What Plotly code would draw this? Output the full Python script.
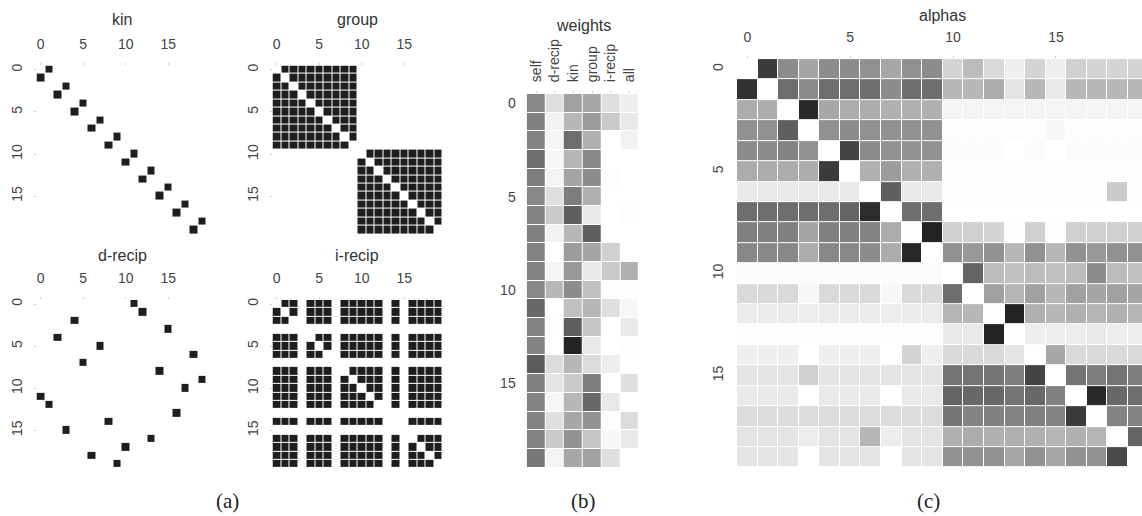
import plotly.graph_objects as go

W, H = 1142, 516
N = 20
idx = list(range(N))

# ---------------- data ----------------
kin_partner = [1, 0, 3, 2, 5, 4, 7, 6, 9, 8, 11, 10, 13, 12, 15, 14, 17, 16, 19, 18]
group_id = [0] * 10 + [1] * 10
drecip_partner = [11, 12, 4, 15, 2, 7, 18, 5, 14, 19, 17, 0, 1, 16, 8, 3, 13, 10, 6, 9]
irecip_member = [1, 1, 1, 0, 1, 1, 1, 0, 1, 1, 1, 1, 1, 0, 1, 0, 1, 1, 1, 1]

weight_labels = ["self", "d-recip", "kin", "group", "i-recip", "all"]
w_self = [53, 56, 55, 65, 58, 53, 55, 56, 55, 55, 53, 67, 55, 55, 72, 56, 55, 55, 55, 60]
w_drecip = [14, 6, 5, 3, 5, 14, 24, 6, 0, 5, 32, 0, 1, 0, 16, 12, 4, 14, 24, 5]
w_kin = [42, 32, 65, 32, 40, 58, 71, 32, 44, 46, 51, 28, 71, 98, 32, 24, 32, 39, 48, 39]
w_group = [39, 45, 35, 53, 51, 35, 10, 71, 40, 10, 28, 32, 26, 10, 16, 58, 67, 48, 26, 42]
w_irecip = [14, 24, 0, 0, 1, 0, 0, 0, 21, 24, 1, 14, 0, 0, 8, 0, 10, 1, 3, 14]
w_all = [7, 10, 6, 0, 0, 0, 1, 0, 0, 35, 1, 4, 10, 1, 0, 14, 0, 16, 10, 0]

alpha_rows = [
    [0, 87, 51, 40, 51, 51, 49, 39, 49, 51, 19, 30, 17, 7, 19, 7, 21, 19, 19, 19],
    [91, 0, 65, 51, 65, 65, 64, 51, 64, 64, 32, 32, 37, 12, 32, 10, 32, 32, 32, 32],
    [37, 37, 0, 95, 39, 37, 37, 35, 35, 35, 5, 5, 5, 5, 5, 5, 5, 5, 5, 5],
    [49, 49, 71, 0, 49, 51, 49, 49, 49, 49, 1, 1, 1, 1, 1, 3, 1, 1, 1, 1],
    [51, 51, 55, 49, 0, 83, 51, 49, 49, 49, 2, 2, 2, 0, 2, 0, 2, 2, 2, 2],
    [37, 37, 37, 37, 87, 0, 35, 44, 35, 35, 1, 1, 1, 1, 1, 1, 1, 1, 1, 1],
    [10, 10, 10, 10, 10, 10, 0, 71, 10, 10, 1, 1, 1, 1, 1, 1, 1, 1, 23, 1],
    [65, 65, 65, 65, 65, 69, 94, 0, 64, 64, 0, 0, 0, 0, 0, 0, 0, 0, 0, 0],
    [56, 56, 56, 40, 56, 56, 55, 37, 0, 98, 21, 21, 19, 1, 21, 1, 21, 21, 21, 21],
    [53, 53, 53, 37, 53, 53, 51, 37, 95, 0, 49, 46, 49, 32, 49, 32, 49, 46, 49, 49],
    [2, 2, 2, 2, 2, 2, 2, 2, 2, 2, 0, 69, 30, 28, 30, 28, 30, 51, 30, 28],
    [17, 17, 17, 3, 17, 17, 17, 3, 17, 17, 64, 0, 42, 33, 42, 32, 42, 40, 42, 40],
    [9, 9, 9, 8, 9, 9, 9, 8, 9, 9, 33, 32, 0, 98, 35, 32, 35, 33, 35, 33],
    [1, 1, 1, 1, 1, 1, 1, 1, 1, 1, 10, 10, 98, 0, 8, 8, 8, 10, 8, 8],
    [7, 7, 7, 0, 7, 7, 7, 0, 19, 7, 17, 17, 17, 12, 0, 39, 17, 17, 17, 17],
    [12, 12, 12, 21, 12, 12, 12, 12, 12, 12, 62, 62, 62, 58, 83, 0, 62, 58, 62, 58],
    [10, 10, 10, 0, 10, 10, 10, 0, 10, 10, 69, 67, 67, 62, 67, 56, 0, 95, 67, 65],
    [16, 16, 16, 16, 16, 16, 16, 16, 16, 16, 62, 55, 56, 55, 56, 55, 87, 0, 55, 55],
    [12, 12, 12, 8, 12, 12, 33, 8, 12, 12, 35, 37, 35, 35, 35, 33, 35, 33, 0, 69],
    [12, 12, 12, 0, 12, 12, 12, 0, 12, 12, 49, 49, 49, 39, 49, 39, 49, 49, 81, 0],
]

tick_vals = [0, 5, 10, 15]

# ---------------- matrices built from the lists ----------------
kin_m = [[1 if kin_partner[i] == j else 0 for j in idx] for i in idx]
group_m = [[1 if (group_id[i] == group_id[j] and i != j) else 0 for j in idx] for i in idx]
drecip_m = [[1 if drecip_partner[i] == j else 0 for j in idx] for i in idx]
irecip_m = [[1 if (irecip_member[i] and irecip_member[j] and i != j) else 0 for j in idx] for i in idx]
weights_m = [[w_self[i], w_drecip[i], w_kin[i], w_group[i], w_irecip[i], w_all[i]] for i in idx]

CS = [[0, "#ffffff"], [1, "#1e1e1e"]]
TICK_FONT = dict(family="Liberation Sans, Arial, sans-serif", size=14, color="#444444")
TITLE_FONT = dict(family="Liberation Sans, Arial, sans-serif", size=16, color="#333333")


def px_x(a, b):
    return [a / W, min(b / W, 1.0)]


def px_y(top, bottom):
    return [1 - bottom / H, 1 - top / H]


def label(text, x, y, font):
    return dict(text=text, x=x / W, y=1 - y / H, xref="paper", yref="paper",
                showarrow=False, font=font, xanchor="center", yanchor="middle")


fig = go.Figure()

panels = [
    # name, matrix, x domain px, y domain px, title pos
    ("kin", kin_m, (36.5, 206.5), (63.8, 233.0), (122, 18)),
    ("group", group_m, (272.5, 442.5), (63.8, 233.0), (357, 18)),
    ("d-recip", drecip_m, (36.5, 206.5), (299.0, 468.0), (122, 254)),
    ("i-recip", irecip_m, (272.5, 442.5), (299.0, 468.0), (357, 254)),
]

layout_axes = {}
annotations = []
k = 0
for name, mat, xd, yd, tpos in panels:
    k += 1
    xa = "x" if k == 1 else f"x{k}"
    ya = "y" if k == 1 else f"y{k}"
    fig.add_trace(go.Heatmap(z=mat, x=idx, y=idx, zmin=0, zmax=1, colorscale=CS,
                             showscale=False, xgap=1, ygap=1, xaxis=xa, yaxis=ya,
                             hoverinfo="skip"))
    layout_axes["xaxis" if k == 1 else f"xaxis{k}"] = dict(
        domain=px_x(*xd), range=[-0.5, 19.5], side="top", anchor=ya,
        tickvals=tick_vals, tickfont=TICK_FONT, ticks="outside", ticklen=2,
        tickcolor="#cccccc", ticklabelstandoff=8, showgrid=False, zeroline=False,
        showline=False, fixedrange=True)
    layout_axes["yaxis" if k == 1 else f"yaxis{k}"] = dict(
        domain=px_y(*yd), range=[19.5, -0.5], anchor=xa, tickangle=-90,
        tickvals=tick_vals, tickfont=TICK_FONT, ticks="outside", ticklen=2,
        tickcolor="#cccccc", ticklabelstandoff=6, showgrid=False, zeroline=False,
        showline=False, fixedrange=True)
    annotations.append(label(name, tpos[0], tpos[1], TITLE_FONT))

# weights panel
k += 1
fig.add_trace(go.Heatmap(z=weights_m, x=weight_labels, y=idx, zmin=0, zmax=100,
                         colorscale=CS, showscale=False, xgap=1, ygap=1,
                         xaxis=f"x{k}", yaxis=f"y{k}", hoverinfo="skip"))
layout_axes[f"xaxis{k}"] = dict(
    domain=px_x(526.7, 639.0), range=[-0.5, 5.5], side="top", anchor=f"y{k}",
    tickangle=-90, tickfont=TICK_FONT, ticks="outside", ticklen=2, tickcolor="#cccccc",
    ticklabelstandoff=6, showgrid=False, zeroline=False, showline=False, fixedrange=True)
layout_axes[f"yaxis{k}"] = dict(
    domain=px_y(92.3, 467.3), range=[19.5, -0.5], anchor=f"x{k}", tickvals=tick_vals,
    tickfont=TICK_FONT, ticks="", ticklabelstandoff=10, showgrid=False, zeroline=False,
    showline=False, fixedrange=True)
annotations.append(label("weights", 583, 24, TITLE_FONT))

# alphas panel (cut at the right border like the reference)
k += 1
cell = 20.58
visible_cols = (W - 737.0) / cell
fig.add_trace(go.Heatmap(z=alpha_rows, x=idx, y=idx, zmin=0, zmax=100, colorscale=CS,
                         showscale=False, xgap=1, ygap=1, xaxis=f"x{k}", yaxis=f"y{k}",
                         hoverinfo="skip"))
layout_axes[f"xaxis{k}"] = dict(
    domain=px_x(737.0, W), range=[-0.5, -0.5 + visible_cols], side="top",
    anchor=f"y{k}", tickvals=tick_vals, tickfont=TICK_FONT, ticks="outside", ticklen=2,
    tickcolor="#cccccc", ticklabelstandoff=8, showgrid=False, zeroline=False,
    showline=False, fixedrange=True)
layout_axes[f"yaxis{k}"] = dict(
    domain=px_y(57.3, 467.3), range=[19.5, -0.5], anchor=f"x{k}", tickangle=-90,
    tickvals=tick_vals, tickfont=TICK_FONT, ticks="", ticklabelstandoff=10,
    showgrid=False, zeroline=False, showline=False, fixedrange=True)
annotations.append(label("alphas", 942, 14, TITLE_FONT))

# captions
CAP_FONT = dict(family="Liberation Serif, Times New Roman, serif", size=21, color="#222222")
for txt, cx in [("(a)", 228), ("(b)", 583), ("(c)", 928)]:
    annotations.append(label(txt, cx, 501, CAP_FONT))

fig.update_layout(width=W, height=H, autosize=False,
                  margin=dict(l=0, r=0, t=0, b=0, pad=0),
                  paper_bgcolor="white", plot_bgcolor="white",
                  annotations=annotations, **layout_axes)

fig.write_html("out.html", config={"displayModeBar": False},
               post_script="document.body.style.margin='0px';document.body.style.overflow='hidden';")
